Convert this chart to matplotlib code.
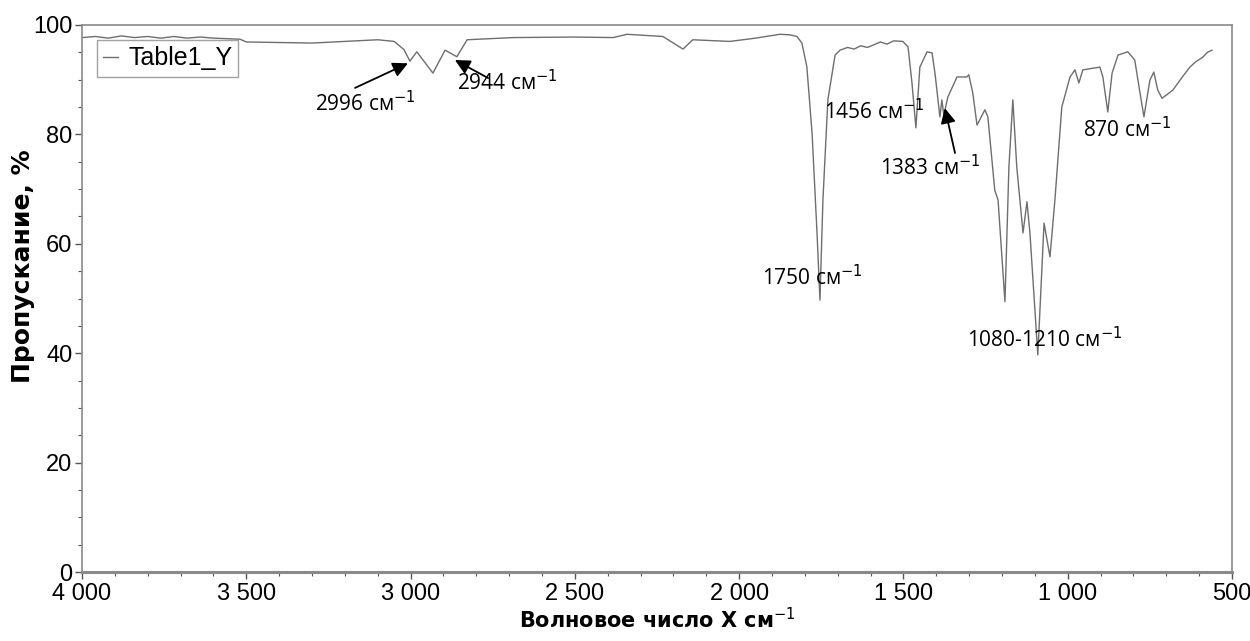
import matplotlib
matplotlib.use("Agg")
import matplotlib.pyplot as plt
from matplotlib.ticker import MultipleLocator, FuncFormatter

# ИК-спектр, значения
wavenumber = [4000, 3960, 3920, 3880, 3840, 3800, 3760, 3720, 3680, 3640, 3600,
              3519, 3500, 3400, 3300, 3200, 3100, 3050, 3020, 3002, 2981, 2932,
              2895, 2859, 2828, 2688, 2500, 2384, 2341, 2232, 2171, 2141, 2028,
              1950, 1876, 1845, 1824, 1809, 1794, 1778, 1763, 1754, 1745, 1730,
              1708, 1693, 1670, 1650, 1630, 1610, 1593, 1570, 1550, 1530, 1502,
              1486, 1474, 1462, 1450, 1428, 1413, 1404, 1389, 1383, 1377, 1365,
              1337, 1307, 1301, 1289, 1276, 1252, 1243, 1222, 1212, 1191, 1179,
              1167, 1155, 1136, 1124, 1115, 1091, 1072, 1054, 1039, 1018, 993,
              978, 966, 954, 902, 893, 878, 865, 847, 817, 796, 780, 768, 750,
              738, 726, 713, 680, 650, 628, 610, 589, 575, 561]
transmittance = [97.7, 97.9, 97.6, 98.0, 97.7, 97.9, 97.6, 97.9, 97.6, 97.8, 97.6,
                 97.4, 96.9, 96.8, 96.7, 97.0, 97.3, 97.0, 95.5, 93.4, 95.1, 91.2,
                 95.4, 94.2, 97.3, 97.7, 97.8, 97.7, 98.3, 97.9, 95.6, 97.3, 97.0,
                 97.6, 98.3, 98.2, 97.9, 96.7, 92.4, 80.2, 62.0, 49.7, 68.0, 86.3,
                 94.5, 95.4, 95.9, 95.6, 96.2, 95.9, 96.3, 96.9, 96.5, 97.1, 97.0,
                 96.0, 89.4, 81.2, 92.3, 95.1, 94.9, 91.2, 83.2, 86.3, 83.5, 86.8,
                 90.5, 90.5, 90.9, 87.6, 81.7, 84.5, 83.2, 69.8, 68.0, 49.4, 74.0,
                 86.3, 74.0, 62.0, 67.7, 62.0, 39.7, 63.8, 57.6, 68.0, 85.0, 90.5,
                 91.8, 89.4, 91.8, 92.3, 90.5, 84.1, 91.2, 94.5, 95.1, 93.6, 87.6,
                 83.2, 89.9, 91.4, 88.1, 86.6, 88.1, 90.6, 92.3, 93.3, 94.1, 95.0,
                 95.4]

# подписи пиков: текст, x, y
peak_labels = ["2996 см$^{-1}$", "2944 см$^{-1}$", "1456 см$^{-1}$",
               "1383 см$^{-1}$", "1750 см$^{-1}$", "1080-1210 см$^{-1}$",
               "870 см$^{-1}$"]
peak_text_x = [3136, 2704, 1587, 1419, 1778, 1069, 817]
peak_text_y = [85.7, 89.4, 84.1, 73.9, 53.9, 42.4, 80.8]

# стрелки: (куда, откуда)
arrow_tip = [(3008, 93.0), (2865, 93.6), (1374, 84.8)]
arrow_tail = [(3169, 88.5), (2764, 90.3), (1343, 76.6)]

tick_font = ["Liberation Sans", "DejaVu Sans"]

fig = plt.figure(figsize=(12.5, 6.41), dpi=100)
ax = fig.add_axes([0.0656, 0.1076, 0.92, 0.8534])

ax.plot(wavenumber, transmittance, color="#6e6e6e", lw=1.0, label="Table1_Y")

ax.set_xlim(4000, 500)
ax.set_ylim(0, 100)
ax.xaxis.set_major_locator(MultipleLocator(500))
ax.xaxis.set_minor_locator(MultipleLocator(100))
ax.yaxis.set_major_locator(MultipleLocator(20))
ax.yaxis.set_minor_locator(MultipleLocator(5))
ax.xaxis.set_major_formatter(FuncFormatter(lambda v, p: f"{int(v):,}".replace(",", " ")))

for s in ax.spines.values():
    s.set_color("#8a8a8a")
    s.set_linewidth(1.2)
ax.spines["bottom"].set_linewidth(2.2)
ax.tick_params(which="both", direction="out", color="#555555")
ax.tick_params(which="major", length=5, width=1, labelsize=17, pad=2)
ax.tick_params(axis="x", which="major", pad=3)
ax.tick_params(which="minor", length=3, width=0.8)
for lab in ax.get_xticklabels() + ax.get_yticklabels():
    lab.set_family(tick_font)

ax.set_xlabel("Волновое число X см$^{-1}$", fontsize=15, fontweight="bold", labelpad=1)
ax.set_ylabel("Пропускание, %", fontsize=18, fontweight="bold")
ax.yaxis.set_label_coords(-0.041, 0.56)

leg = ax.legend(loc="upper left", bbox_to_anchor=(0.002, 0.995), frameon=True,
                fancybox=False, edgecolor="#8a8a8a", handlelength=0.6,
                handletextpad=0.4, borderpad=0.25,
                prop={"family": tick_font, "size": 18})
leg.get_frame().set_linewidth(1.0)

for txt, tx, ty in zip(peak_labels, peak_text_x, peak_text_y):
    ax.text(tx, ty, txt, ha="center", va="center", fontsize=15,
            family=["Open Sans", "DejaVu Sans"], color="black")

for tip, tail in zip(arrow_tip, arrow_tail):
    ax.annotate("", xy=tip, xytext=tail,
                arrowprops=dict(arrowstyle="-|>,head_length=0.9,head_width=0.45",
                                color="black", lw=1.3, shrinkA=0, shrinkB=0))

fig.savefig("out.png", dpi=100)
